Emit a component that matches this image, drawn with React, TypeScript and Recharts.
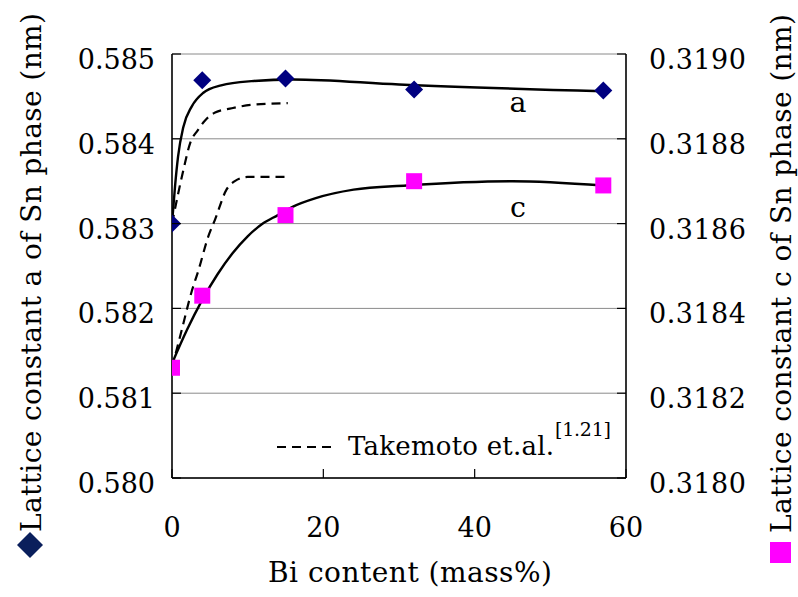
import { ComposedChart, Line, Scatter, XAxis, YAxis, CartesianGrid } from "recharts";

// measured points (Bi mass%)
const markX = [0, 4, 15, 32, 57];
const latticeA = [0.583, 0.58469, 0.58471, 0.58458, 0.58457];
const latticeC = [0.31826, 0.31843, 0.31862, 0.3187, 0.31869];

// fitted curve through a
const fitAX = [0, 0.4, 0.8, 1.5, 2.6, 4.1, 6.5, 10.5, 16, 30, 57];
const fitA = [0.583, 0.58344, 0.58379, 0.58414, 0.58438, 0.58454, 0.58463, 0.58468, 0.5847, 0.58464, 0.58456];

// fitted curve through c
const fitCX = [0, 2, 4, 6, 8, 10, 12, 14, 16, 19, 24, 31, 45, 57];
const fitC = [0.31827, 0.31835, 0.31842, 0.31848, 0.31853, 0.31857, 0.3186, 0.31862, 0.31864, 0.31866, 0.31868, 0.31869, 0.3187, 0.31869];

// Takemoto et.al. curves
const takeAX = [0, 1.5, 2.4, 3.4, 4.4, 5.7, 7.9, 10.5, 15.3];
const takeA = [0.583, 0.58363, 0.58395, 0.5841, 0.58422, 0.58431, 0.58436, 0.5844, 0.58442];
const takeCX = [0, 1.3, 2.6, 3.5, 4.8, 5.7, 7.2, 8.3, 10.0, 15.6];
const takeC = [0.31826, 0.31835, 0.31844, 0.31849, 0.31857, 0.31861, 0.31868, 0.3187, 0.31871, 0.31871];

const xTicks = [0, 20, 40, 60];
const aTicks = [0.58, 0.581, 0.582, 0.583, 0.584, 0.585];
const cTicks = [0.318, 0.3182, 0.3184, 0.3186, 0.3188, 0.319];

const pts = (xs: number[], ys: number[]) => xs.map((x, i) => ({ x, y: ys[i] }));

const FONT = "'DejaVu Serif', serif";
const NAVY = "#000080";
const PINK = "#ff00ff";

function LeftTick({ x, y, payload }: any) {
  return (
    <g>
      <line x1={x + 17} x2={x + 26} y1={y} y2={y} stroke="#000" strokeWidth={1.2} />
      <text x={x} y={y + 15} textAnchor="end" fontSize={27} fill="#000" fontFamily={FONT}>
        {Number(payload.value).toFixed(3)}
      </text>
    </g>
  );
}

function RightTick({ x, y, payload }: any) {
  return (
    <g>
      <line x1={x - 23} x2={x - 32} y1={y} y2={y} stroke="#000" strokeWidth={1.2} />
      <text x={x} y={y + 15} textAnchor="start" fontSize={27} letterSpacing={0.5} fill="#000" fontFamily={FONT}>
        {Number(payload.value).toFixed(4)}
      </text>
    </g>
  );
}

function BottomTick({ x, y, payload }: any) {
  return (
    <g>
      <line x1={x} x2={x} y1={y} y2={y - 9} stroke="#000" strokeWidth={1.2} />
      <text x={x} y={y + 59} textAnchor="middle" fontSize={27} fill="#000" fontFamily={FONT}>
        {payload.value}
      </text>
    </g>
  );
}

const Diamond = ({ cx, cy }: any) => (
  <polygon points={`${cx},${cy - 9} ${cx + 9},${cy} ${cx},${cy + 9} ${cx - 9},${cy}`} fill={NAVY} />
);
const Square = ({ cx, cy }: any) => <rect x={cx - 8} y={cy - 8} width={16} height={16} fill={PINK} />;

export default function App() {
  return (
    <div style={{ position: "absolute", left: 0, top: 0, width: 798, height: 597, background: "#fff", fontFamily: FONT }}>
      <ComposedChart width={798} height={597} margin={{ top: 54, right: 0, bottom: 0, left: 0 }}>
        <CartesianGrid yAxisId="left" vertical={false} stroke="#8a8a8a" strokeWidth={1} />
        <XAxis dataKey="x" type="number" domain={[0, 60]} ticks={xTicks} height={119} allowDataOverflow
          tickSize={0} tickMargin={0} tickLine={false} axisLine={{ stroke: "#000", strokeWidth: 1.6 }} tick={<BottomTick />} />
        <YAxis yAxisId="left" type="number" domain={[0.58, 0.585]} ticks={aTicks} width={172} allowDataOverflow
          tickSize={0} tickMargin={17} tickLine={false} axisLine={{ stroke: "#000", strokeWidth: 1.6 }} tick={<LeftTick />} />
        <YAxis yAxisId="right" orientation="right" type="number" domain={[0.318, 0.319]} ticks={cTicks} width={172} allowDataOverflow
          tickSize={0} tickMargin={23} tickLine={false} axisLine={{ stroke: "#000", strokeWidth: 1.6 }} tick={<RightTick />} />
        <Scatter yAxisId="left" data={pts(markX, latticeA)} dataKey="y" shape={<Diamond />} isAnimationActive={false} />
        <Scatter yAxisId="right" data={pts(markX, latticeC)} dataKey="y" shape={<Square />} isAnimationActive={false} />
        <Line yAxisId="left" data={pts(takeAX, takeA)} dataKey="y" type="monotone" stroke="#000" strokeWidth={2.2}
          strokeDasharray="9 6" dot={false} activeDot={false} isAnimationActive={false} />
        <Line yAxisId="right" data={pts(takeCX, takeC)} dataKey="y" type="monotone" stroke="#000" strokeWidth={2.2}
          strokeDasharray="9 6" dot={false} activeDot={false} isAnimationActive={false} />
        <Line yAxisId="left" data={pts(fitAX, fitA)} dataKey="y" type="monotone" stroke="#000" strokeWidth={2.4}
          dot={false} activeDot={false} isAnimationActive={false} />
        <Line yAxisId="right" data={pts(fitCX, fitC)} dataKey="y" type="monotone" stroke="#000" strokeWidth={2.4}
          dot={false} activeDot={false} isAnimationActive={false} />
      </ComposedChart>
      <svg width={798} height={597} style={{ position: "absolute", left: 0, top: 0, pointerEvents: "none" }}>
        <g fontFamily={FONT} fill="#000">
          <text x={518} y={112} textAnchor="middle" fontSize={28.5}>a</text>
          <text x={518} y={217} textAnchor="middle" fontSize={28.5}>c</text>
          <line x1={277} x2={336} y1={447} y2={447} stroke="#000" strokeWidth={2.2} strokeDasharray="9 6" />
          <text x={348} y={455} fontSize={26} textLength={206} lengthAdjust="spacing">Takemoto et.al.</text>
          <text x={555} y={436} fontSize={19} textLength={56} lengthAdjust="spacing">[1.21]</text>
          <text x={268} y={582} fontSize={28} textLength={284} lengthAdjust="spacing">Bi content (mass%)</text>
          <polygon points="30,532 43,545 30,558 17,545" fill="#0a1f5c" />
          <text transform="translate(41,532) rotate(-90)" fontSize={28} textLength={519} lengthAdjust="spacing">
            Lattice constant a of Sn phase (nm)
          </text>
          <rect x={770} y={542} width={21} height={21} fill={PINK} />
          <text transform="translate(791,533) rotate(-90)" fontSize={28} textLength={519} lengthAdjust="spacing">
            Lattice constant c of Sn phase (nm)
          </text>
        </g>
      </svg>
    </div>
  );
}
